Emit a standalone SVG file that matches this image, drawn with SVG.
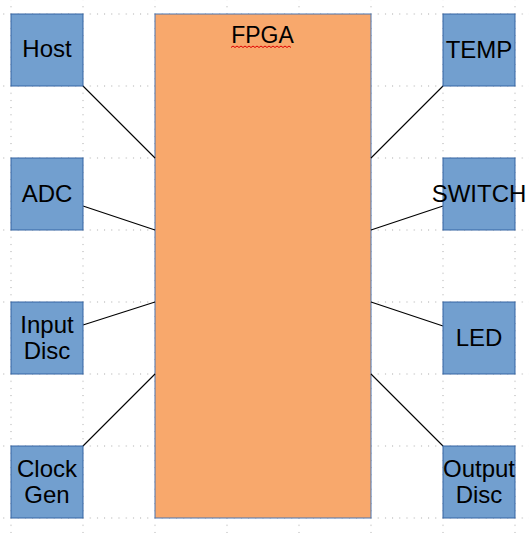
<svg xmlns="http://www.w3.org/2000/svg" width="529" height="533" viewBox="0 0 529 533">
<style>
.box{fill:#729fcf;stroke:#3465a4;stroke-width:1}
.fpga{fill:#f8a86c;stroke:#4a74b0;stroke-width:1}
.lbl{font-family:"Liberation Sans",Arial,sans-serif;font-size:24px;fill:#000;text-anchor:middle}
.conn line{stroke:#000;stroke-width:1.1}
</style>
<defs>
<pattern id="gv" patternUnits="userSpaceOnUse" x="10.5" y="13.5" width="72" height="7.2">
<rect x="0" y="0" width="1" height="1" fill="#a8a8a8"/>
</pattern>
<pattern id="gh" patternUnits="userSpaceOnUse" x="10.5" y="13.5" width="7.2" height="72">
<rect x="0" y="0" width="1" height="1" fill="#a8a8a8"/>
</pattern>
</defs>
<rect width="529" height="533" fill="#fff"/>
<g id="grid">
<rect width="529" height="533" fill="url(#gv)"/>
<rect width="529" height="533" fill="url(#gh)"/>
</g>
<g id="fpga">
<rect class="fpga" x="155" y="14" width="216" height="504"/>
<text class="lbl" x="262.5" y="43" style="font-size:23px">FPGA</text>
<path d="M231 47.5 l2 -1.5 l2 1.5 l2 -1.5 l2 1.5 l2 -1.5 l2 1.5 l2 -1.5 l2 1.5 l2 -1.5 l2 1.5 l2 -1.5 l2 1.5 l2 -1.5 l2 1.5 l2 -1.5 l2 1.5 l2 -1.5 l2 1.5 l2 -1.5 l2 1.5 l2 -1.5 l2 1.5 l2 -1.5 l2 1.5 l2 -1.5 l2 1.5 l2 -1.5 l2 1.5 l2 -1.5 l2 1.5" fill="none" stroke="#e00000" stroke-width="1"/>
</g>
<g id="connectors" class="conn">
<line x1="83" y1="86" x2="155" y2="158"/>
<line x1="83" y1="206" x2="155" y2="230"/>
<line x1="83" y1="325" x2="155" y2="302"/>
<line x1="83" y1="446" x2="155" y2="374"/>
<line x1="443" y1="86" x2="371" y2="158"/>
<line x1="443" y1="206" x2="371" y2="230"/>
<line x1="443" y1="326" x2="371" y2="302"/>
<line x1="443" y1="446" x2="371" y2="374"/>
</g>
<g id="host"><rect class="box" x="11" y="14" width="72" height="72"/><text class="lbl" x="47" y="57">Host</text></g>
<g id="adc"><rect class="box" x="11" y="158" width="72" height="72"/><text class="lbl" x="47" y="201.5">ADC</text></g>
<g id="input-disc"><rect class="box" x="11" y="302" width="72" height="72"/><text class="lbl" x="47" y="333">Input</text><text class="lbl" x="47" y="359">Disc</text></g>
<g id="clock-gen"><rect class="box" x="11" y="446" width="72" height="72"/><text class="lbl" x="47" y="477">Clock</text><text class="lbl" x="47" y="503">Gen</text></g>
<g id="temp"><rect class="box" x="443" y="14" width="72" height="72"/><text class="lbl" x="479" y="57.5">TEMP</text></g>
<g id="switch"><rect class="box" x="443" y="158" width="72" height="72"/><text class="lbl" x="479" y="201.5">SWITCH</text></g>
<g id="led"><rect class="box" x="443" y="302" width="72" height="72"/><text class="lbl" x="479" y="345.5">LED</text></g>
<g id="output-disc"><rect class="box" x="443" y="446" width="72" height="72"/><text class="lbl" x="479" y="477">Output</text><text class="lbl" x="479" y="503">Disc</text></g>
</svg>
